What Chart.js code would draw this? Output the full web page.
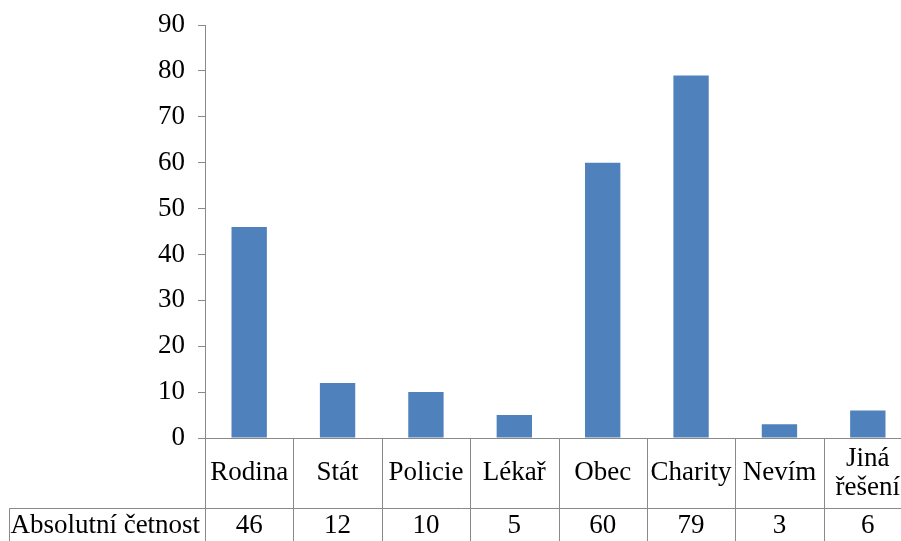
<!DOCTYPE html>
<html>
<head>
<meta charset="utf-8">
<script src="https://cdn.jsdelivr.net/npm/chart.js@4/dist/chart.umd.min.js"></script>
<style>
  html, body { margin: 0; padding: 0; background: #ffffff; overflow: hidden; }
  #wrap { width: 912px; height: 541px; }
</style>
</head>
<body>
<div id="wrap"><canvas id="c" width="912" height="541"></canvas></div>
<script>
// Answers: who should help (absolute frequency of responses)
const categories = ['Rodina', 'Stát', 'Policie', 'Lékař', 'Obec', 'Charity', 'Nevím', ['Jiná', 'řešení']];
const values = [46, 12, 10, 5, 60, 79, 3, 6];
const seriesName = 'Absolutní četnost';
const yMin = 0;
const yMax = 90;
const yStep = 10;

const FONT = "'Liberation Serif', 'Times New Roman', serif";
const FONT_SIZE = 27;
const LINE_COLOR = '#898989';
const BAR_COLOR = '#4f81bd';

// Data table under the plot: category row + value row, aligned to the x scale
const dataTable = {
  id: 'dataTable',
  afterDraw(chart) {
    const { ctx, chartArea, scales } = chart;
    const x = scales.x;
    const n = categories.length;
    const step = x.getPixelForValue(1) - x.getPixelForValue(0);
    const top = chartArea.bottom;
    const mid = top + 70;
    const bottom = mid + 38;
    const leftEdge = 9.5;
    const crisp = v => Math.round(v) + 0.5;

    ctx.save();
    ctx.strokeStyle = LINE_COLOR;
    ctx.lineWidth = 1;
    ctx.beginPath();
    // top border (category axis)
    ctx.moveTo(crisp(chartArea.left), crisp(top));
    ctx.lineTo(chartArea.right + 50, crisp(top));
    // row separator
    ctx.moveTo(leftEdge, crisp(mid));
    ctx.lineTo(chartArea.right + 50, crisp(mid));
    // bottom border
    ctx.moveTo(leftEdge, crisp(bottom));
    ctx.lineTo(chartArea.right + 50, crisp(bottom));
    // left border of the series-name cell
    ctx.moveTo(leftEdge, crisp(mid));
    ctx.lineTo(leftEdge, bottom);
    // cell boundaries
    for (let i = 0; i <= n; i++) {
      const bx = crisp(x.getPixelForValue(i) - step / 2);
      ctx.moveTo(bx, crisp(top));
      ctx.lineTo(bx, bottom);
    }
    ctx.stroke();

    ctx.fillStyle = '#000000';
    ctx.font = FONT_SIZE + 'px ' + FONT;
    ctx.textAlign = 'center';
    ctx.textBaseline = 'middle';
    const lineH = 29;
    const rowMid1 = (top + mid) / 2;
    const rowMid2 = mid + 18;
    categories.forEach((label, i) => {
      const cx = x.getPixelForValue(i);
      const lines = Array.isArray(label) ? label : [label];
      const y0 = rowMid1 - (lines.length - 1) * lineH / 2;
      lines.forEach((ln, k) => ctx.fillText(ln, cx, y0 + k * lineH));
      ctx.fillText(String(values[i]), cx, rowMid2);
    });
    ctx.fillText(seriesName, (leftEdge + chartArea.left) / 2 - 2, rowMid2);
    ctx.restore();
  }
};

new Chart(document.getElementById('c'), {
  type: 'bar',
  data: {
    labels: categories,
    datasets: [{
      label: seriesName,
      data: values,
      backgroundColor: BAR_COLOR,
      borderWidth: 0,
      categoryPercentage: 1.0,
      barPercentage: 0.4
    }]
  },
  options: {
    responsive: false,
    animation: false,
    devicePixelRatio: 1,
    layout: { padding: { top: 25, right: 0, bottom: 103, left: 0 } },
    plugins: {
      legend: { display: false },
      tooltip: { enabled: false },
      title: { display: false }
    },
    scales: {
      x: {
        display: false
      },
      y: {
        min: yMin,
        max: yMax,
        ticks: {
          stepSize: yStep,
          color: '#000000',
          padding: 13,
          font: { family: FONT, size: FONT_SIZE }
        },
        grid: {
          drawOnChartArea: false,
          drawTicks: true,
          tickLength: 7,
          color: LINE_COLOR
        },
        border: { display: true, color: LINE_COLOR, width: 1 },
        afterFit(scale) {
          scale.width = 205;
          scale.paddingTop = 0;
          scale.paddingBottom = 0;
        }
      }
    }
  },
  plugins: [dataTable]
});
</script>
</body>
</html>
